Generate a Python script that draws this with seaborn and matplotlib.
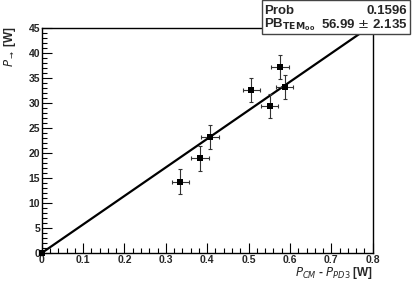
import matplotlib
matplotlib.use("Agg")
import matplotlib.pyplot as plt
import seaborn as sns
import numpy as np
import pandas as pd
from matplotlib.ticker import MultipleLocator
from matplotlib.patches import Rectangle

# data
x_vals = [0.0, 0.335, 0.383, 0.407, 0.507, 0.551, 0.576, 0.587]
y_vals = [0.0, 14.2, 18.9, 23.1, 32.5, 29.3, 37.2, 33.1]
x_err = [0.0, 0.021, 0.021, 0.021, 0.021, 0.021, 0.021, 0.021]
y_err = [0.0, 2.5, 2.5, 2.4, 2.4, 2.4, 2.4, 2.4]
fit_slope = 56.99
fit_slope_err = 2.135
fit_prob = 0.1596

df = pd.DataFrame({"x": x_vals, "y": y_vals})

sns.set_theme(style="white")
plt.rcParams['font.family'] = ['Liberation Sans', 'DejaVu Sans']

fig = plt.figure(figsize=(4.15, 2.81), dpi=100)
ax = fig.add_axes([41.7/415, 1-253/281, (372.7-41.7)/415, (253-27.7)/281])

ax.set_xlim(0, 0.8)
ax.set_ylim(0, 45)

# fit line
fit_x = np.linspace(0, 0.8, 50)
fit_df = pd.DataFrame({"x": fit_x, "y": fit_slope * fit_x})
sns.lineplot(data=fit_df, x="x", y="y", ax=ax, color="black", lw=1.6, zorder=2)

ax.errorbar(x_vals, y_vals, xerr=x_err, yerr=y_err, fmt="none", ecolor="#333333",
            elinewidth=0.8, capsize=1.3, capthick=0.8, zorder=3)
sns.scatterplot(data=df, x="x", y="y", ax=ax, marker="s", s=22, color="black",
                edgecolor="black", linewidth=0, zorder=4, clip_on=False)

ax.xaxis.set_major_locator(MultipleLocator(0.1))
ax.xaxis.set_minor_locator(MultipleLocator(0.02))
ax.yaxis.set_major_locator(MultipleLocator(5))
ax.yaxis.set_minor_locator(MultipleLocator(1))
ax.tick_params(which="both", direction="in", top=False, right=False, bottom=True, left=True,
               color="black", width=0.8)
ax.tick_params(which="major", length=7, labelsize=7.5, pad=1.2)
ax.tick_params(which="minor", length=3.5)
ax.set_xticks(np.arange(0, 0.81, 0.1).round(1))
ax.set_yticks(np.arange(0, 46, 5))
ax.set_xticklabels([f"{v:g}" for v in np.arange(0, 0.81, 0.1).round(1)], fontweight="bold")
ax.set_yticklabels([f"{int(v)}" for v in np.arange(0, 46, 5)], fontweight="bold")
for sp in ax.spines.values():
    sp.set_color("black")
    sp.set_linewidth(1.0)

ax.set_xlabel("")
ax.set_ylabel("")
fig.text(372.7/415, 1-273/281, r"$P_{CM}$ - $P_{PD3}$ [W]", ha="right", va="center", fontsize=8.5,
         fontweight="bold")
fig.text(10/415, 1-46/281, r"$P_{\rightarrow}$ [W]", ha="center", va="center", rotation=90,
         fontsize=8.5, fontweight="bold")

# stats box
box = Rectangle((262/415, 1-34/281), (410-262)/415, 34/281, transform=fig.transFigure,
                facecolor="white", edgecolor="#444444", linewidth=1.0, zorder=10)
fig.patches.append(box)
fig.text(264/415, 1-11/281, "Prob", ha="left", va="center", fontsize=9.5, fontweight="bold", zorder=11)
fig.text(407/415, 1-11/281, f"{fit_prob:.4f}", ha="right", va="center", fontsize=9.5,
         fontweight="bold", zorder=11)
fig.text(264/415, 1-25/281, r"PB$_{\mathbf{TEM}_{\mathbf{00}}}$", ha="left", va="center", fontsize=9.5,
         fontweight="bold", zorder=11)
fig.text(407/415, 1-25/281, f"{fit_slope:.2f} $\\pm$ {fit_slope_err:.3f}", ha="right", va="center",
         fontsize=9.5, fontweight="bold", zorder=11)

fig.savefig("out.png", dpi=100)
